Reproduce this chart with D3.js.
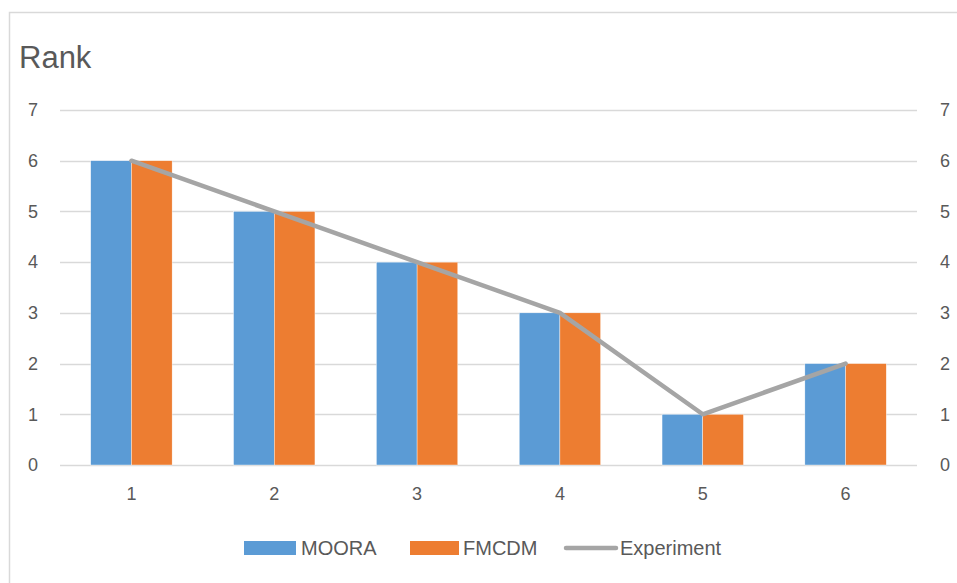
<!DOCTYPE html>
<html><head><meta charset="utf-8">
<script src="https://cdn.jsdelivr.net/npm/d3@7"></script>
<style>body{margin:0;background:#fff}svg{display:block}text{font-family:"Liberation Sans","Open Sans",sans-serif;fill:#595959}</style>
</head><body><svg id="c" width="957" height="583"></svg>
<script>
const categories = ["1","2","3","4","5","6"];
const moora = [6,5,4,3,1,2];
const fmcdm = [6,5,4,3,1,2];
const experiment = [6,5,4,3,1,2];
const yTicks = [0,1,2,3,4,5,6,7];
const seriesNames = ["MOORA","FMCDM","Experiment"];
const colors = {MOORA:"#5B9BD5", FMCDM:"#ED7D31", Experiment:"#A5A5A5"};

const svg = d3.select("#c");
svg.append("rect").attr("x",9.5).attr("y",12.5).attr("width",960).attr("height",600)
  .attr("fill","#fff").attr("stroke","#d9d9d9").attr("stroke-width",1.5);

const L=60,R=917,T=110,B=465;
const x = d3.scaleBand().domain(categories).range([L,R]).paddingInner(0.43).paddingOuter(0.215);
const y = d3.scaleLinear().domain([0,7]).range([B,T]);

svg.append("text").attr("x",19).attr("y",68).attr("font-size",31).text("Rank");

// grid
svg.append("g").selectAll("line").data(yTicks).join("line")
  .attr("x1",L).attr("x2",R).attr("y1",d=>Math.round(y(d))+0.5).attr("y2",d=>Math.round(y(d))+0.5)
  .attr("stroke","#d9d9d9").attr("stroke-width",1.3);

const fmt = d3.format("d");
const yl = d3.axisLeft(y).tickValues(yTicks).tickFormat(fmt).tickSize(0).tickPadding(22);
const gl = svg.append("g").attr("transform",`translate(${L},0)`).call(yl);
const yr = d3.axisRight(y).tickValues(yTicks).tickFormat(fmt).tickSize(0).tickPadding(23);
const gr = svg.append("g").attr("transform",`translate(${R},0)`).call(yr);
const xa = d3.axisBottom(x).tickSize(0).tickPadding(22);
const gx = svg.append("g").attr("transform",`translate(0,${B})`).call(xa);
[gl,gr,gx].forEach(g=>{g.select(".domain").remove();g.selectAll("text").attr("font-size",18).attr("fill","#595959").attr("font-family",null);});

const xs = d3.scaleBand().domain(["MOORA","FMCDM"]).range([0,x.bandwidth()]);
const bars = svg.append("g");
categories.forEach((c,i)=>{
  [["MOORA",moora[i]],["FMCDM",fmcdm[i]]].forEach(([s,v])=>{
    bars.append("rect").attr("x",x(c)+xs(s)).attr("width",xs.bandwidth())
      .attr("y",y(v)).attr("height",y(0)-y(v)).attr("fill",colors[s])
      .attr("stroke","#fff").attr("stroke-width",0.4);
  });
});

const line = d3.line().x((d,i)=>x(categories[i])+x.bandwidth()/2).y(d=>y(d));
svg.append("path").datum(experiment).attr("d",line).attr("fill","none")
  .attr("stroke",colors.Experiment).attr("stroke-width",4.5).attr("stroke-linejoin","round").attr("stroke-linecap","round");

// legend
const lg = svg.append("g");
const ly = 548;
lg.append("rect").attr("x",244).attr("y",ly-7).attr("width",52).attr("height",14).attr("fill",colors.MOORA);
lg.append("text").attr("x",301).attr("y",ly+7).attr("font-size",20).text("MOORA");
lg.append("rect").attr("x",410).attr("y",ly-7).attr("width",49).attr("height",14).attr("fill",colors.FMCDM);
lg.append("text").attr("x",463).attr("y",ly+7).attr("font-size",20).text("FMCDM");
lg.append("line").attr("x1",566).attr("x2",616).attr("y1",ly).attr("y2",ly).attr("stroke",colors.Experiment).attr("stroke-width",4.5).attr("stroke-linecap","round");
lg.append("text").attr("x",620).attr("y",ly+7).attr("font-size",20).text("Experiment");
</script></body></html>
